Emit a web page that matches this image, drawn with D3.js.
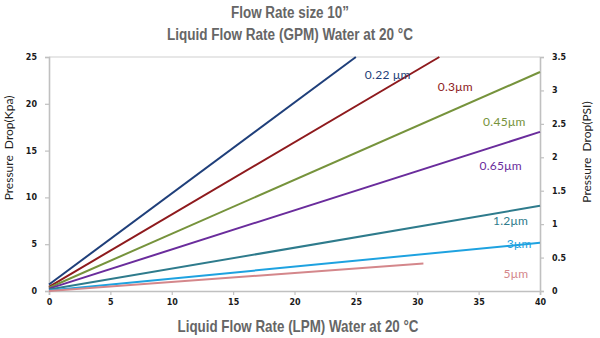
<!DOCTYPE html>
<html>
<head>
<meta charset="utf-8">
<script src="https://cdn.jsdelivr.net/npm/d3@7"></script>
<style>
  body { margin: 0; background: #fff; }
  svg { display: block; }
</style>
</head>
<body>
<svg id="chart" width="600" height="338"></svg>
<script>
// ---- data ----
const titleLines = ["Flow Rate size 10\u201D", "Liquid Flow Rate (GPM) Water at 20 \u00B0C"];
const xAxisTitle = "Liquid Flow Rate (LPM) Water at 20 \u00B0C";
const leftAxisTitle = "Pressure  Drop(Kpa)";
const rightAxisTitle = "Pressure  Drop(PSI)";
const xTicks = [0, 5, 10, 15, 20, 25, 30, 35, 40];
const kpaTicks = [0, 5, 10, 15, 20, 25];
const psiTicks = [0, 0.5, 1, 1.5, 2, 2.5, 3, 3.5];
const seriesNames = ["0.22 \u03BCm", "0.3\u03BCm", "0.45\u03BCm", "0.65\u03BCm", "1.2\u03BCm", "3\u03BCm", "5\u03BCm"];
const seriesColors = ["#1f3f7a", "#8e1a1d", "#76933c", "#6a2c9c", "#2e7b8c", "#1ea2e0", "#d4878b"];
// points: [LPM, kPa]
const s022 = [[0, 0.7], [25, 25]];
const s03  = [[0, 0.45], [31.8, 25]];
const s045 = [[0, 0.35], [40, 23.4]];
const s065 = [[0, 0.25], [40, 17.0]];
const s12  = [[0, 0.15], [40, 9.1]];
const s3   = [[0, 0.05], [40, 5.15]];
const s5   = [[0, 0.0], [30.5, 2.95]];
const seriesData = [s022, s03, s045, s065, s12, s3, s5];
// label anchor positions in data units [LPM, kPa]
const labelPos = [[27.6, 23.0], [33.1, 21.7], [37.1, 17.9], [36.8, 13.3], [37.6, 7.4], [38.3, 4.9], [38.05, 1.7]];

// ---- layout ----
const svg = d3.select("#chart");
const L = 49, R = 540, T = 57, B = 291;
const x = d3.scaleLinear().domain([0, 40]).range([L, R]);
const yK = d3.scaleLinear().domain([0, 25]).range([B, T]);
const yP = d3.scaleLinear().domain([0, 3.5]).range([B, T]);

const tickFont = "'DejaVu Sans', Verdana, sans-serif";
const labelFont = "Lato, 'Open Sans', sans-serif";
const grey = "#c0c0c0";

// top gridline
svg.append("line").attr("x1", L).attr("x2", R).attr("y1", T).attr("y2", T)
  .attr("stroke", "#cfcfcf").attr("stroke-width", 1);

// axes
const gx = svg.append("g").attr("transform", `translate(0,${B})`)
  .call(d3.axisBottom(x).tickValues(xTicks).tickSize(4).tickPadding(4).tickFormat(d3.format("d")));
const gl = svg.append("g").attr("transform", `translate(${L},0)`)
  .call(d3.axisLeft(yK).tickValues(kpaTicks).tickSize(4).tickPadding(8).tickFormat(d3.format("d")));
const gr = svg.append("g").attr("transform", `translate(${R},0)`)
  .call(d3.axisRight(yP).tickValues(psiTicks).tickSize(4).tickPadding(8).tickFormat(d => String(d)));

[gx, gl, gr].forEach(g => {
  g.select(".domain").attr("stroke", grey).attr("stroke-width", 1.6);
  g.selectAll(".tick line").attr("stroke", grey).attr("stroke-width", 1.2);
  g.selectAll(".tick text").attr("fill", "#1a1a1a").style("font-family", tickFont)
    .style("font-size", "8px").style("font-weight", "bold");
});

// lines
const line = d3.line().x(d => x(d[0])).y(d => yK(d[1]));
seriesData.forEach((s, i) => {
  svg.append("path").datum(s).attr("d", line)
    .attr("fill", "none").attr("stroke", seriesColors[i]).attr("stroke-width", 2);
});

// series labels
seriesNames.forEach((n, i) => {
  svg.append("text").attr("x", x(labelPos[i][0])).attr("y", yK(labelPos[i][1]))
    .attr("text-anchor", "middle").attr("dominant-baseline", "middle")
    .style("font-family", labelFont).style("font-size", "12px").style("letter-spacing", "0.3px")
    .attr("fill", seriesColors[i]).text(n);
});

// titles
const titleFont = "'Liberation Sans', Arial, sans-serif";
const titleWidths = [118, 246];
titleLines.forEach((t, i) => {
  svg.append("text").attr("x", 290).attr("y", 18 + i * 22).attr("text-anchor", "middle")
    .attr("textLength", titleWidths[i]).attr("lengthAdjust", "spacingAndGlyphs")
    .style("font-family", titleFont).style("font-weight", "bold").style("font-size", "16px")
    .attr("fill", "#666").text(t);
});
svg.append("text").attr("x", 298).attr("y", 332).attr("text-anchor", "middle")
  .attr("textLength", 241).attr("lengthAdjust", "spacingAndGlyphs")
  .style("font-family", titleFont).style("font-weight", "bold").style("font-size", "17px")
  .attr("fill", "#666").text(xAxisTitle);

svg.append("text").attr("transform", `translate(13,148) rotate(-90)`).attr("text-anchor", "middle")
  .style("font-family", labelFont).style("font-size", "12px").style("white-space", "pre")
  .attr("fill", "#222").text(leftAxisTitle);
svg.append("text").attr("transform", `translate(591,152) rotate(-90)`).attr("text-anchor", "middle")
  .style("font-family", labelFont).style("font-size", "12px").style("white-space", "pre")
  .attr("fill", "#222").text(rightAxisTitle);
</script>
</body>
</html>
